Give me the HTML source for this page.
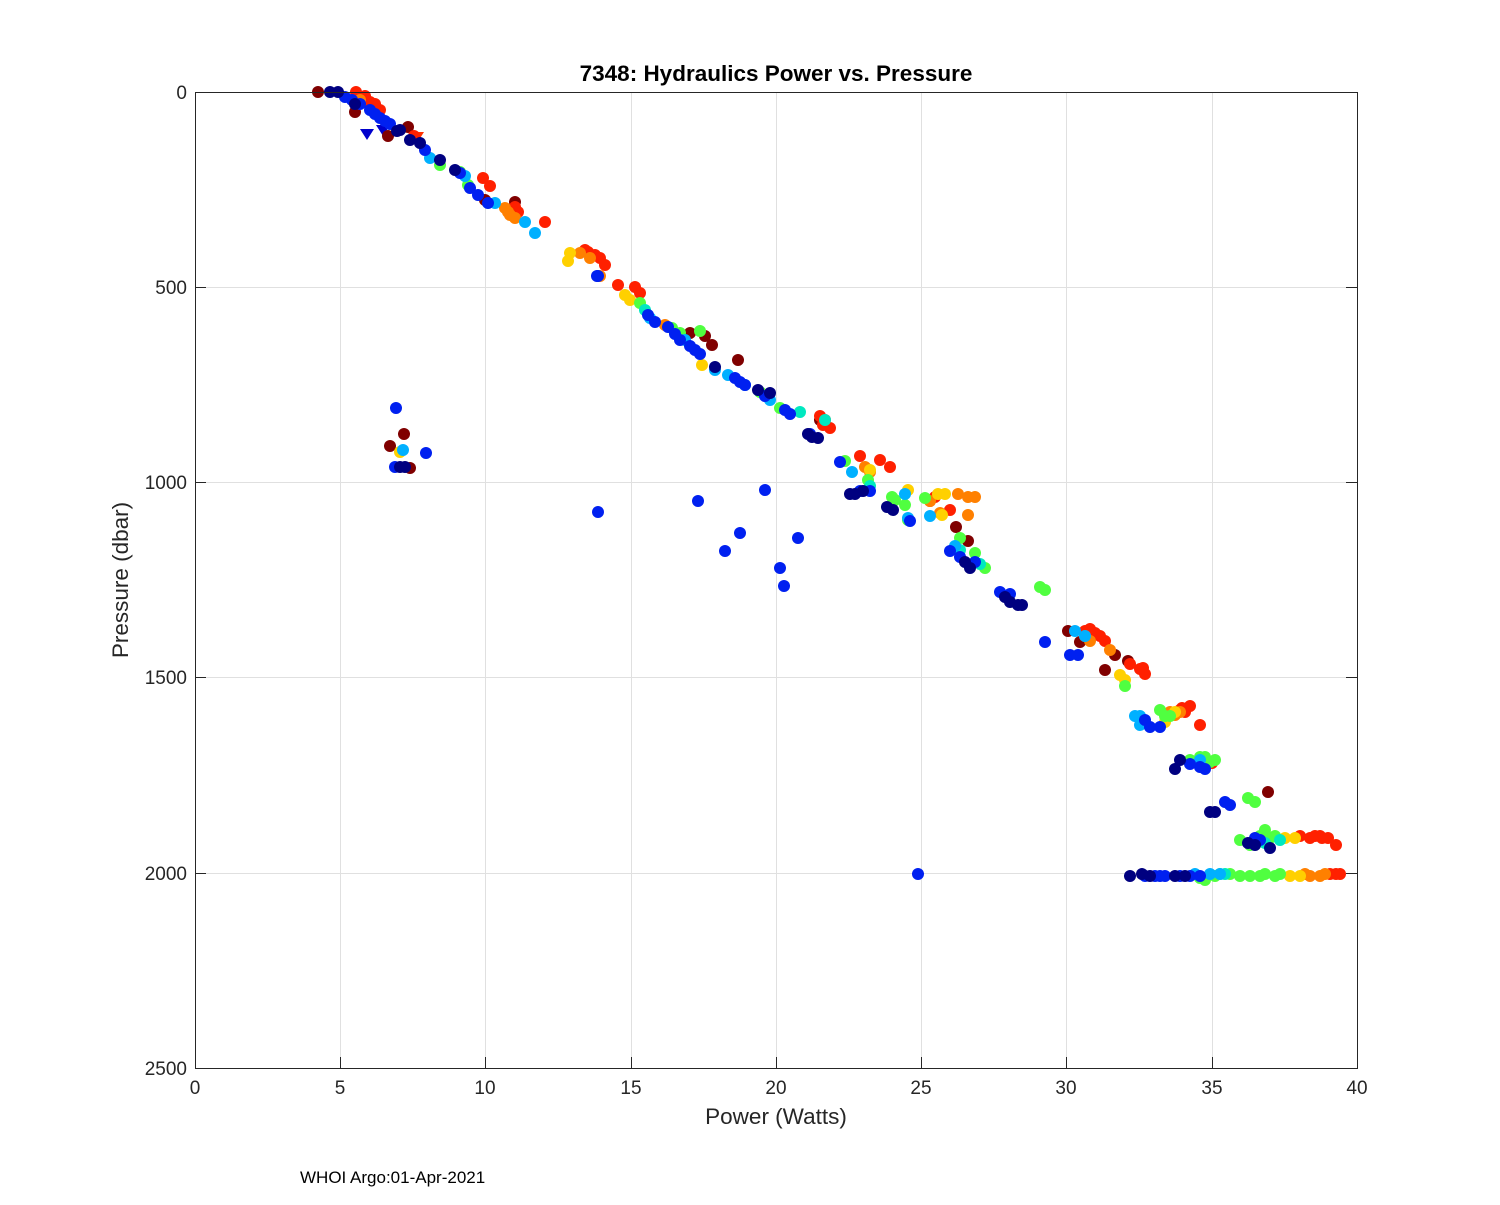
<!DOCTYPE html>
<html><head><meta charset="utf-8"><style>
body{margin:0;background:#fff;width:1500px;height:1200px;overflow:hidden}
text{font-family:"Liberation Sans",sans-serif}
</style></head><body>
<svg width="1500" height="1200" xmlns="http://www.w3.org/2000/svg">
<rect x="0" y="0" width="1500" height="1200" fill="#fff"/>
<g stroke="#e0e0e0" stroke-width="1">
<line x1="340.5" y1="92" x2="340.5" y2="1068"/><line x1="485.5" y1="92" x2="485.5" y2="1068"/><line x1="631.5" y1="92" x2="631.5" y2="1068"/><line x1="776.5" y1="92" x2="776.5" y2="1068"/><line x1="921.5" y1="92" x2="921.5" y2="1068"/><line x1="1066.5" y1="92" x2="1066.5" y2="1068"/><line x1="1212.5" y1="92" x2="1212.5" y2="1068"/>
<line x1="195" y1="287.5" x2="1357" y2="287.5"/><line x1="195" y1="482.5" x2="1357" y2="482.5"/><line x1="195" y1="677.5" x2="1357" y2="677.5"/><line x1="195" y1="873.5" x2="1357" y2="873.5"/>
</g>
<g fill="#0000cc"><polygon points="360,129 374,129 367,140"/><polygon points="376,125 390,125 383,136"/></g>
<polygon points="410,132 424,132 417,143" fill="#ff3000"/>
<g>
<g fill="#800000">
<circle cx="318" cy="92" r="6"/><circle cx="355" cy="112" r="6"/><circle cx="388" cy="136" r="6"/><circle cx="408" cy="127" r="6"/><circle cx="390" cy="446" r="6"/><circle cx="404" cy="434" r="6"/><circle cx="485" cy="200" r="6"/><circle cx="515" cy="202" r="6"/><circle cx="690" cy="333" r="6"/><circle cx="705" cy="336" r="6"/><circle cx="712" cy="345" r="6"/><circle cx="738" cy="360" r="6"/><circle cx="956" cy="527" r="6"/><circle cx="968" cy="541" r="6"/><circle cx="1068" cy="631" r="6"/><circle cx="1080" cy="642" r="6"/><circle cx="1115" cy="655" r="6"/><circle cx="1105" cy="670" r="6"/><circle cx="1128" cy="661" r="6"/><circle cx="1268" cy="792" r="6"/><circle cx="820" cy="420" r="6"/><circle cx="410" cy="468" r="6"/>
</g>
<g fill="#ff2000">
<circle cx="360" cy="97" r="6"/><circle cx="370" cy="102" r="6"/><circle cx="380" cy="110" r="6"/><circle cx="356" cy="92" r="6"/><circle cx="414" cy="136" r="6"/><circle cx="483" cy="178" r="6"/><circle cx="490" cy="186" r="6"/><circle cx="515" cy="207" r="6"/><circle cx="518" cy="212" r="6"/><circle cx="545" cy="222" r="6"/><circle cx="585" cy="250" r="6"/><circle cx="595" cy="255" r="6"/><circle cx="605" cy="265" r="6"/><circle cx="618" cy="285" r="6"/><circle cx="635" cy="287" r="6"/><circle cx="640" cy="293" r="6"/><circle cx="820" cy="416" r="6"/><circle cx="825" cy="420" r="6"/><circle cx="830" cy="428" r="6"/><circle cx="860" cy="456" r="6"/><circle cx="880" cy="460" r="6"/><circle cx="890" cy="467" r="6"/><circle cx="935" cy="497" r="6"/><circle cx="950" cy="510" r="6"/><circle cx="1085" cy="631" r="6"/><circle cx="1090" cy="629" r="6"/><circle cx="1100" cy="636" r="6"/><circle cx="1105" cy="641" r="6"/><circle cx="1130" cy="664" r="6"/><circle cx="1140" cy="669" r="6"/><circle cx="1145" cy="674" r="6"/><circle cx="1180" cy="710" r="6"/><circle cx="1182" cy="708" r="6"/><circle cx="1200" cy="725" r="6"/><circle cx="1212" cy="763" r="6"/><circle cx="1300" cy="836" r="6"/><circle cx="1320" cy="836" r="6"/><circle cx="1328" cy="838" r="6"/><circle cx="1336" cy="845" r="6"/><circle cx="1330" cy="874" r="6"/><circle cx="1336" cy="874" r="6"/><circle cx="1340" cy="874" r="6"/><circle cx="1190" cy="706" r="6"/><circle cx="930" cy="501" r="6"/><circle cx="1310" cy="838" r="6"/>
<circle cx="365" cy="96" r="6"/><circle cx="375" cy="104" r="6"/><circle cx="588" cy="252" r="6"/><circle cx="600" cy="258" r="6"/><circle cx="823" cy="425" r="6"/><circle cx="1095" cy="633" r="6"/><circle cx="1143" cy="668" r="6"/><circle cx="1185" cy="712" r="6"/><circle cx="1315" cy="836" r="6"/><circle cx="1322" cy="838" r="6"/>
</g>
<g fill="#ff8000">
<circle cx="505" cy="208" r="6"/><circle cx="510" cy="215" r="6"/><circle cx="515" cy="218" r="6"/><circle cx="580" cy="253" r="6"/><circle cx="600" cy="276" r="6"/><circle cx="665" cy="325" r="6"/><circle cx="865" cy="467" r="6"/><circle cx="870" cy="472" r="6"/><circle cx="930" cy="501" r="6"/><circle cx="958" cy="494" r="6"/><circle cx="968" cy="497" r="6"/><circle cx="968" cy="515" r="6"/><circle cx="1085" cy="636" r="6"/><circle cx="1090" cy="641" r="6"/><circle cx="1110" cy="650" r="6"/><circle cx="1175" cy="715" r="6"/><circle cx="1180" cy="712" r="6"/><circle cx="1320" cy="876" r="6"/><circle cx="1325" cy="874" r="6"/><circle cx="1310" cy="876" r="6"/><circle cx="975" cy="497" r="6"/><circle cx="940" cy="513" r="6"/>
<circle cx="360" cy="100" r="6"/><circle cx="508" cy="212" r="6"/><circle cx="590" cy="258" r="6"/><circle cx="1170" cy="712" r="6"/><circle cx="1305" cy="874" r="6"/>
</g>
<g fill="#ffd000">
<circle cx="570" cy="253" r="6"/><circle cx="568" cy="261" r="6"/><circle cx="625" cy="295" r="6"/><circle cx="630" cy="300" r="6"/><circle cx="908" cy="490" r="6"/><circle cx="938" cy="494" r="6"/><circle cx="945" cy="494" r="6"/><circle cx="942" cy="515" r="6"/><circle cx="1120" cy="675" r="6"/><circle cx="1125" cy="680" r="6"/><circle cx="1300" cy="876" r="6"/><circle cx="1290" cy="876" r="6"/><circle cx="870" cy="470" r="6"/><circle cx="1165" cy="722" r="6"/><circle cx="1175" cy="712" r="6"/><circle cx="400" cy="452" r="6"/><circle cx="1285" cy="838" r="6"/>
<circle cx="702" cy="365" r="6"/><circle cx="1295" cy="838" r="6"/>
</g>
<g fill="#50ff40">
<circle cx="440" cy="165" r="6"/><circle cx="468" cy="185" r="6"/><circle cx="680" cy="333" r="6"/><circle cx="700" cy="331" r="6"/><circle cx="780" cy="408" r="6"/><circle cx="845" cy="461" r="6"/><circle cx="868" cy="480" r="6"/><circle cx="892" cy="497" r="6"/><circle cx="895" cy="500" r="6"/><circle cx="905" cy="505" r="6"/><circle cx="908" cy="520" r="6"/><circle cx="925" cy="498" r="6"/><circle cx="960" cy="538" r="6"/><circle cx="975" cy="553" r="6"/><circle cx="985" cy="568" r="6"/><circle cx="1040" cy="587" r="6"/><circle cx="1045" cy="590" r="6"/><circle cx="1125" cy="686" r="6"/><circle cx="1165" cy="716" r="6"/><circle cx="1170" cy="716" r="6"/><circle cx="1205" cy="757" r="6"/><circle cx="1210" cy="762" r="6"/><circle cx="1215" cy="760" r="6"/><circle cx="1248" cy="798" r="6"/><circle cx="1255" cy="802" r="6"/><circle cx="1265" cy="830" r="6"/><circle cx="1270" cy="838" r="6"/><circle cx="1205" cy="880" r="6"/><circle cx="1215" cy="876" r="6"/><circle cx="1240" cy="876" r="6"/><circle cx="1260" cy="876" r="6"/><circle cx="1275" cy="876" r="6"/><circle cx="1230" cy="874" r="6"/><circle cx="1250" cy="876" r="6"/><circle cx="1280" cy="874" r="6"/><circle cx="1160" cy="710" r="6"/><circle cx="1190" cy="760" r="6"/><circle cx="1200" cy="757" r="6"/><circle cx="1240" cy="840" r="6"/><circle cx="1250" cy="845" r="6"/><circle cx="1260" cy="836" r="6"/><circle cx="1275" cy="836" r="6"/><circle cx="460" cy="172" r="6"/>
<circle cx="640" cy="303" r="6"/><circle cx="672" cy="328" r="6"/><circle cx="760" cy="392" r="6"/><circle cx="1220" cy="874" r="6"/><circle cx="1265" cy="874" r="6"/><circle cx="1200" cy="878" r="6"/>
</g>
<g fill="#00e8c0">
<circle cx="800" cy="412" r="6"/><circle cx="825" cy="420" r="6"/><circle cx="870" cy="486" r="6"/><circle cx="960" cy="550" r="6"/><circle cx="980" cy="564" r="6"/><circle cx="1225" cy="874" r="6"/><circle cx="1265" cy="843" r="6"/>
<circle cx="645" cy="310" r="6"/><circle cx="1280" cy="840" r="6"/>
</g>
<g fill="#00b0ff">
<circle cx="430" cy="158" r="6"/><circle cx="465" cy="176" r="6"/><circle cx="495" cy="203" r="6"/><circle cx="525" cy="222" r="6"/><circle cx="535" cy="233" r="6"/><circle cx="650" cy="318" r="6"/><circle cx="715" cy="370" r="6"/><circle cx="745" cy="385" r="6"/><circle cx="770" cy="400" r="6"/><circle cx="852" cy="472" r="6"/><circle cx="905" cy="494" r="6"/><circle cx="930" cy="516" r="6"/><circle cx="1075" cy="631" r="6"/><circle cx="1085" cy="636" r="6"/><circle cx="1135" cy="716" r="6"/><circle cx="1140" cy="716" r="6"/><circle cx="1200" cy="760" r="6"/><circle cx="1210" cy="874" r="6"/><circle cx="1220" cy="874" r="6"/><circle cx="403" cy="450" r="6"/><circle cx="955" cy="546" r="6"/><circle cx="908" cy="518" r="6"/><circle cx="1140" cy="725" r="6"/>
<circle cx="685" cy="340" r="6"/><circle cx="728" cy="375" r="6"/><circle cx="1195" cy="874" r="6"/>
</g>
<g fill="#0020f0">
<circle cx="345" cy="97" r="6"/><circle cx="360" cy="104" r="6"/><circle cx="370" cy="110" r="6"/><circle cx="380" cy="118" r="6"/><circle cx="390" cy="124" r="6"/><circle cx="425" cy="150" r="6"/><circle cx="460" cy="173" r="6"/><circle cx="478" cy="195" r="6"/><circle cx="488" cy="203" r="6"/><circle cx="598" cy="276" r="6"/><circle cx="648" cy="315" r="6"/><circle cx="668" cy="327" r="6"/><circle cx="680" cy="340" r="6"/><circle cx="690" cy="346" r="6"/><circle cx="700" cy="354" r="6"/><circle cx="735" cy="378" r="6"/><circle cx="745" cy="385" r="6"/><circle cx="765" cy="396" r="6"/><circle cx="790" cy="414" r="6"/><circle cx="810" cy="434" r="6"/><circle cx="840" cy="462" r="6"/><circle cx="860" cy="491" r="6"/><circle cx="870" cy="491" r="6"/><circle cx="910" cy="521" r="6"/><circle cx="950" cy="551" r="6"/><circle cx="960" cy="557" r="6"/><circle cx="975" cy="562" r="6"/><circle cx="1000" cy="592" r="6"/><circle cx="1045" cy="642" r="6"/><circle cx="1070" cy="655" r="6"/><circle cx="1145" cy="876" r="6"/><circle cx="1155" cy="876" r="6"/><circle cx="1160" cy="876" r="6"/><circle cx="1190" cy="876" r="6"/><circle cx="1200" cy="876" r="6"/><circle cx="1145" cy="720" r="6"/><circle cx="1150" cy="727" r="6"/><circle cx="1160" cy="727" r="6"/><circle cx="1190" cy="764" r="6"/><circle cx="1200" cy="767" r="6"/><circle cx="1205" cy="769" r="6"/><circle cx="1225" cy="802" r="6"/><circle cx="1230" cy="805" r="6"/><circle cx="1255" cy="838" r="6"/><circle cx="1260" cy="840" r="6"/><circle cx="396" cy="408" r="6"/><circle cx="426" cy="453" r="6"/><circle cx="598" cy="512" r="6"/><circle cx="698" cy="501" r="6"/><circle cx="725" cy="551" r="6"/><circle cx="740" cy="533" r="6"/><circle cx="765" cy="490" r="6"/><circle cx="780" cy="568" r="6"/><circle cx="784" cy="586" r="6"/><circle cx="798" cy="538" r="6"/><circle cx="918" cy="874" r="6"/><circle cx="395" cy="467" r="6"/><circle cx="1078" cy="655" r="6"/><circle cx="597" cy="276" r="6"/>
<circle cx="352" cy="100" r="6"/><circle cx="375" cy="114" r="6"/><circle cx="385" cy="121" r="6"/><circle cx="470" cy="188" r="6"/><circle cx="655" cy="322" r="6"/><circle cx="675" cy="334" r="6"/><circle cx="695" cy="350" r="6"/><circle cx="740" cy="382" r="6"/><circle cx="785" cy="410" r="6"/><circle cx="1165" cy="876" r="6"/><circle cx="1180" cy="876" r="6"/><circle cx="1010" cy="594" r="6"/>
</g>
<g fill="#000080">
<circle cx="330" cy="92" r="6"/><circle cx="338" cy="92" r="6"/><circle cx="355" cy="104" r="6"/><circle cx="400" cy="130" r="6"/><circle cx="410" cy="140" r="6"/><circle cx="440" cy="160" r="6"/><circle cx="455" cy="170" r="6"/><circle cx="715" cy="367" r="6"/><circle cx="758" cy="390" r="6"/><circle cx="808" cy="434" r="6"/><circle cx="812" cy="437" r="6"/><circle cx="850" cy="494" r="6"/><circle cx="855" cy="494" r="6"/><circle cx="887" cy="507" r="6"/><circle cx="893" cy="510" r="6"/><circle cx="965" cy="562" r="6"/><circle cx="970" cy="568" r="6"/><circle cx="1005" cy="597" r="6"/><circle cx="1010" cy="602" r="6"/><circle cx="1018" cy="605" r="6"/><circle cx="1130" cy="876" r="6"/><circle cx="1142" cy="874" r="6"/><circle cx="1150" cy="876" r="6"/><circle cx="1175" cy="876" r="6"/><circle cx="1185" cy="876" r="6"/><circle cx="400" cy="467" r="6"/><circle cx="405" cy="467" r="6"/><circle cx="1180" cy="760" r="6"/><circle cx="1210" cy="812" r="6"/><circle cx="1215" cy="812" r="6"/><circle cx="1248" cy="843" r="6"/><circle cx="1255" cy="845" r="6"/><circle cx="1270" cy="848" r="6"/><circle cx="397" cy="131" r="6"/><circle cx="420" cy="143" r="6"/><circle cx="818" cy="438" r="6"/><circle cx="863" cy="491" r="6"/><circle cx="770" cy="393" r="6"/><circle cx="1022" cy="605" r="6"/><circle cx="1175" cy="769" r="6"/>
</g>
</g>
<rect x="195.5" y="92.5" width="1162" height="976" fill="none" stroke="#262626" stroke-width="1"/>
<g stroke="#262626" stroke-width="1">
<line x1="340.5" y1="1068" x2="340.5" y2="1057"/><line x1="485.5" y1="1068" x2="485.5" y2="1057"/><line x1="631.5" y1="1068" x2="631.5" y2="1057"/><line x1="776.5" y1="1068" x2="776.5" y2="1057"/><line x1="921.5" y1="1068" x2="921.5" y2="1057"/><line x1="1066.5" y1="1068" x2="1066.5" y2="1057"/><line x1="1212.5" y1="1068" x2="1212.5" y2="1057"/>
<line x1="195" y1="287.5" x2="206" y2="287.5"/><line x1="195" y1="482.5" x2="206" y2="482.5"/><line x1="195" y1="677.5" x2="206" y2="677.5"/><line x1="195" y1="873.5" x2="206" y2="873.5"/>
<line x1="1357" y1="287.5" x2="1346" y2="287.5"/><line x1="1357" y1="482.5" x2="1346" y2="482.5"/><line x1="1357" y1="677.5" x2="1346" y2="677.5"/><line x1="1357" y1="873.5" x2="1346" y2="873.5"/>
</g>
<g font-size="19" fill="#262626" text-anchor="middle">
<text x="195" y="1094">0</text><text x="340" y="1094">5</text><text x="485" y="1094">10</text><text x="631" y="1094">15</text><text x="776" y="1094">20</text><text x="921" y="1094">25</text><text x="1066" y="1094">30</text><text x="1212" y="1094">35</text><text x="1357" y="1094">40</text>
</g>
<g font-size="19" fill="#262626" text-anchor="end">
<text x="187" y="99">0</text><text x="187" y="294">500</text><text x="187" y="489">1000</text><text x="187" y="684">1500</text><text x="187" y="880">2000</text><text x="187" y="1075">2500</text>
</g>
<text x="776" y="1124" font-size="22.5" fill="#262626" text-anchor="middle">Power (Watts)</text>
<text transform="translate(128,580) rotate(-90)" font-size="22.5" fill="#262626" text-anchor="middle">Pressure (dbar)</text>
<text x="776" y="81" font-size="22.5" font-weight="bold" fill="#000" text-anchor="middle">7348: Hydraulics Power vs. Pressure</text>
<text x="300" y="1183" font-size="17" fill="#000">WHOI Argo:01-Apr-2021</text>
</svg>
</body></html>
